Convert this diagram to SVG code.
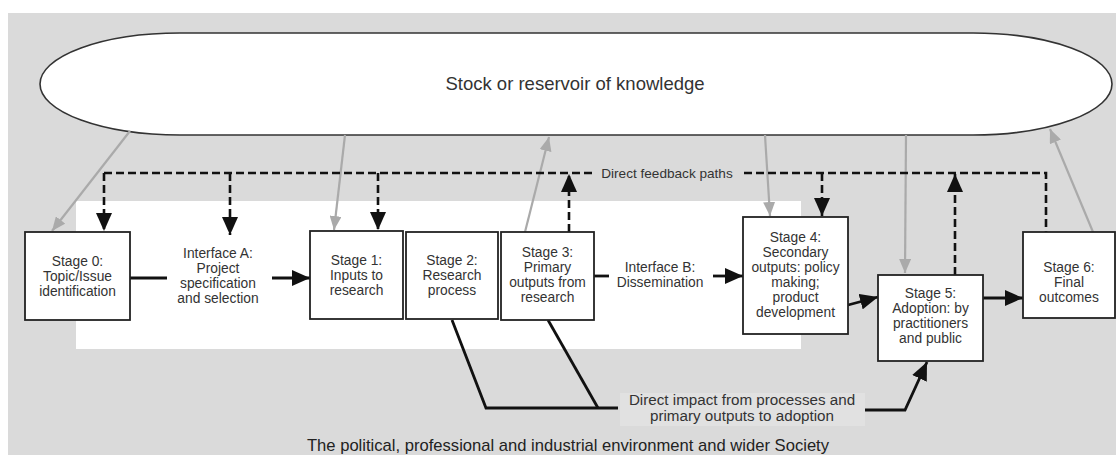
<svg xmlns="http://www.w3.org/2000/svg" width="1116" height="455" viewBox="0 0 1116 455">
<style>
.box{fill:#fff;stroke:#222;stroke-width:1.8}
.t{font-family:"Liberation Sans",Arial,sans-serif;font-size:13.8px;fill:#333;text-anchor:middle}
.lbl{font-family:"Liberation Sans",Arial,sans-serif;font-size:15.2px;fill:#333;text-anchor:middle}
.dash{fill:none;stroke:#111;stroke-width:2.6;stroke-dasharray:8 4}
.solid{fill:none;stroke:#111;stroke-width:2.8}
.grey{fill:none;stroke:#aaa;stroke-width:2.2}
</style>
<defs>
<marker id="ab" markerUnits="userSpaceOnUse" markerWidth="18" markerHeight="16" refX="18" refY="8" orient="auto"><path d="M0,0 L18,8 L0,16 Z" fill="#111"/></marker>
<marker id="ag" markerUnits="userSpaceOnUse" markerWidth="14" markerHeight="12" refX="14" refY="6" orient="auto"><path d="M0,0 L14,6 L0,12 Z" fill="#aaa"/></marker>
</defs>
<rect x="0" y="0" width="1116" height="455" fill="#fff"/>
<rect x="8" y="13" width="1108" height="442" fill="#dadada"/>
<rect x="76" y="201" width="725" height="148" fill="#fff"/>
<rect x="620" y="393" width="245" height="33" fill="#e1e1e1"/>

<g id="reservoir">
<path d="M180,33 H973 A139,51 0 0 1 973,135 H180 A140,51 0 0 1 180,33 Z" fill="#fff" stroke="#333" stroke-width="1.6"/>
<text class="t" x="575" y="90" style="font-size:18.5px">Stock or reservoir of knowledge</text>
</g>

<g id="connectors">
<line class="grey" x1="130" y1="131" x2="52" y2="231" marker-end="url(#ag)"/>
<line class="grey" x1="345" y1="135" x2="334" y2="230" marker-end="url(#ag)"/>
<line class="grey" x1="525" y1="232" x2="549" y2="137" marker-end="url(#ag)"/>
<line class="grey" x1="765" y1="135" x2="770" y2="216" marker-end="url(#ag)"/>
<line class="grey" x1="906" y1="135" x2="905" y2="273" marker-end="url(#ag)"/>
<line class="grey" x1="1093" y1="232" x2="1050" y2="129" marker-end="url(#ag)"/>

<path class="dash" d="M104,173 H592"/>
<path class="dash" d="M744,173 H1046 V232"/>
<line class="dash" x1="104" y1="173" x2="104" y2="231" marker-end="url(#ab)"/>
<line class="dash" x1="230" y1="173" x2="230" y2="235" marker-end="url(#ab)"/>
<line class="dash" x1="378" y1="173" x2="378" y2="230" marker-end="url(#ab)"/>
<line class="dash" x1="822" y1="173" x2="822" y2="216" marker-end="url(#ab)"/>
<line class="dash" x1="569" y1="232" x2="569" y2="174" marker-end="url(#ab)"/>
<line class="dash" x1="955" y1="275" x2="955" y2="174" marker-end="url(#ab)"/>
<text class="t" x="667" y="178" style="font-size:13.6px">Direct feedback paths</text>

<line class="solid" x1="130" y1="278" x2="167" y2="278"/>
<line class="solid" x1="272" y1="278" x2="310" y2="278" marker-end="url(#ab)"/>
<line class="solid" x1="594" y1="276" x2="609" y2="276"/>
<line class="solid" x1="713" y1="276" x2="743" y2="276" marker-end="url(#ab)"/>
<line class="solid" x1="848" y1="305" x2="878" y2="297" marker-end="url(#ab)"/>
<line class="solid" x1="982" y1="298" x2="1023" y2="298" marker-end="url(#ab)"/>
<polyline class="solid" points="452,320 486,408 618,408"/>
<line class="solid" x1="548" y1="320" x2="598" y2="408"/>
<polyline class="solid" points="865,410 905,410 927,362" marker-end="url(#ab)"/>
<text class="lbl" x="742" y="405">Direct impact from processes and</text>
<text class="lbl" x="742" y="421">primary outputs to adoption</text>
</g>

<g id="stage0">
<rect class="box" x="25" y="232" width="105" height="88"/>
<text class="t" x="77.5" y="266">Stage 0:</text>
<text class="t" x="77.5" y="281">Topic/Issue</text>
<text class="t" x="77.5" y="296">identification</text>
</g>
<g id="interfaceA">
<text class="t" x="218" y="258">Interface A:</text>
<text class="t" x="218" y="273">Project</text>
<text class="t" x="218" y="288">specification</text>
<text class="t" x="218" y="303">and selection</text>
</g>
<g id="stage1">
<rect class="box" x="310" y="231" width="93" height="88"/>
<text class="t" x="356.5" y="265">Stage 1:</text>
<text class="t" x="356.5" y="280">Inputs to</text>
<text class="t" x="356.5" y="295">research</text>
</g>
<g id="stage2">
<rect class="box" x="406" y="232" width="92" height="87"/>
<text class="t" x="452" y="265">Stage 2:</text>
<text class="t" x="452" y="280">Research</text>
<text class="t" x="452" y="295">process</text>
</g>
<g id="stage3">
<rect class="box" x="501" y="232" width="93" height="88"/>
<text class="t" x="547.5" y="257">Stage 3:</text>
<text class="t" x="547.5" y="272">Primary</text>
<text class="t" x="547.5" y="287">outputs from</text>
<text class="t" x="547.5" y="302">research</text>
</g>
<g id="interfaceB">
<text class="t" x="660" y="272">Interface B:</text>
<text class="t" x="660" y="287">Dissemination</text>
</g>
<g id="stage4">
<rect class="box" x="743" y="217" width="105" height="117"/>
<text class="t" x="795.5" y="242">Stage 4:</text>
<text class="t" x="795.5" y="257">Secondary</text>
<text class="t" x="795.5" y="272">outputs: policy</text>
<text class="t" x="795.5" y="287">making;</text>
<text class="t" x="795.5" y="302">product</text>
<text class="t" x="795.5" y="317">development</text>
</g>
<g id="stage5">
<rect class="box" x="878" y="275" width="105" height="86"/>
<text class="t" x="930.5" y="298">Stage 5:</text>
<text class="t" x="930.5" y="313">Adoption: by</text>
<text class="t" x="930.5" y="328">practitioners</text>
<text class="t" x="930.5" y="343">and public</text>
</g>
<g id="stage6">
<rect class="box" x="1023" y="232" width="92" height="86"/>
<text class="t" x="1069" y="272">Stage 6:</text>
<text class="t" x="1069" y="287">Final</text>
<text class="t" x="1069" y="302">outcomes</text>
</g>
<text class="lbl" x="568" y="451" style="font-size:16.6px;fill:#222">The political, professional and industrial environment and wider Society</text>
</svg>
